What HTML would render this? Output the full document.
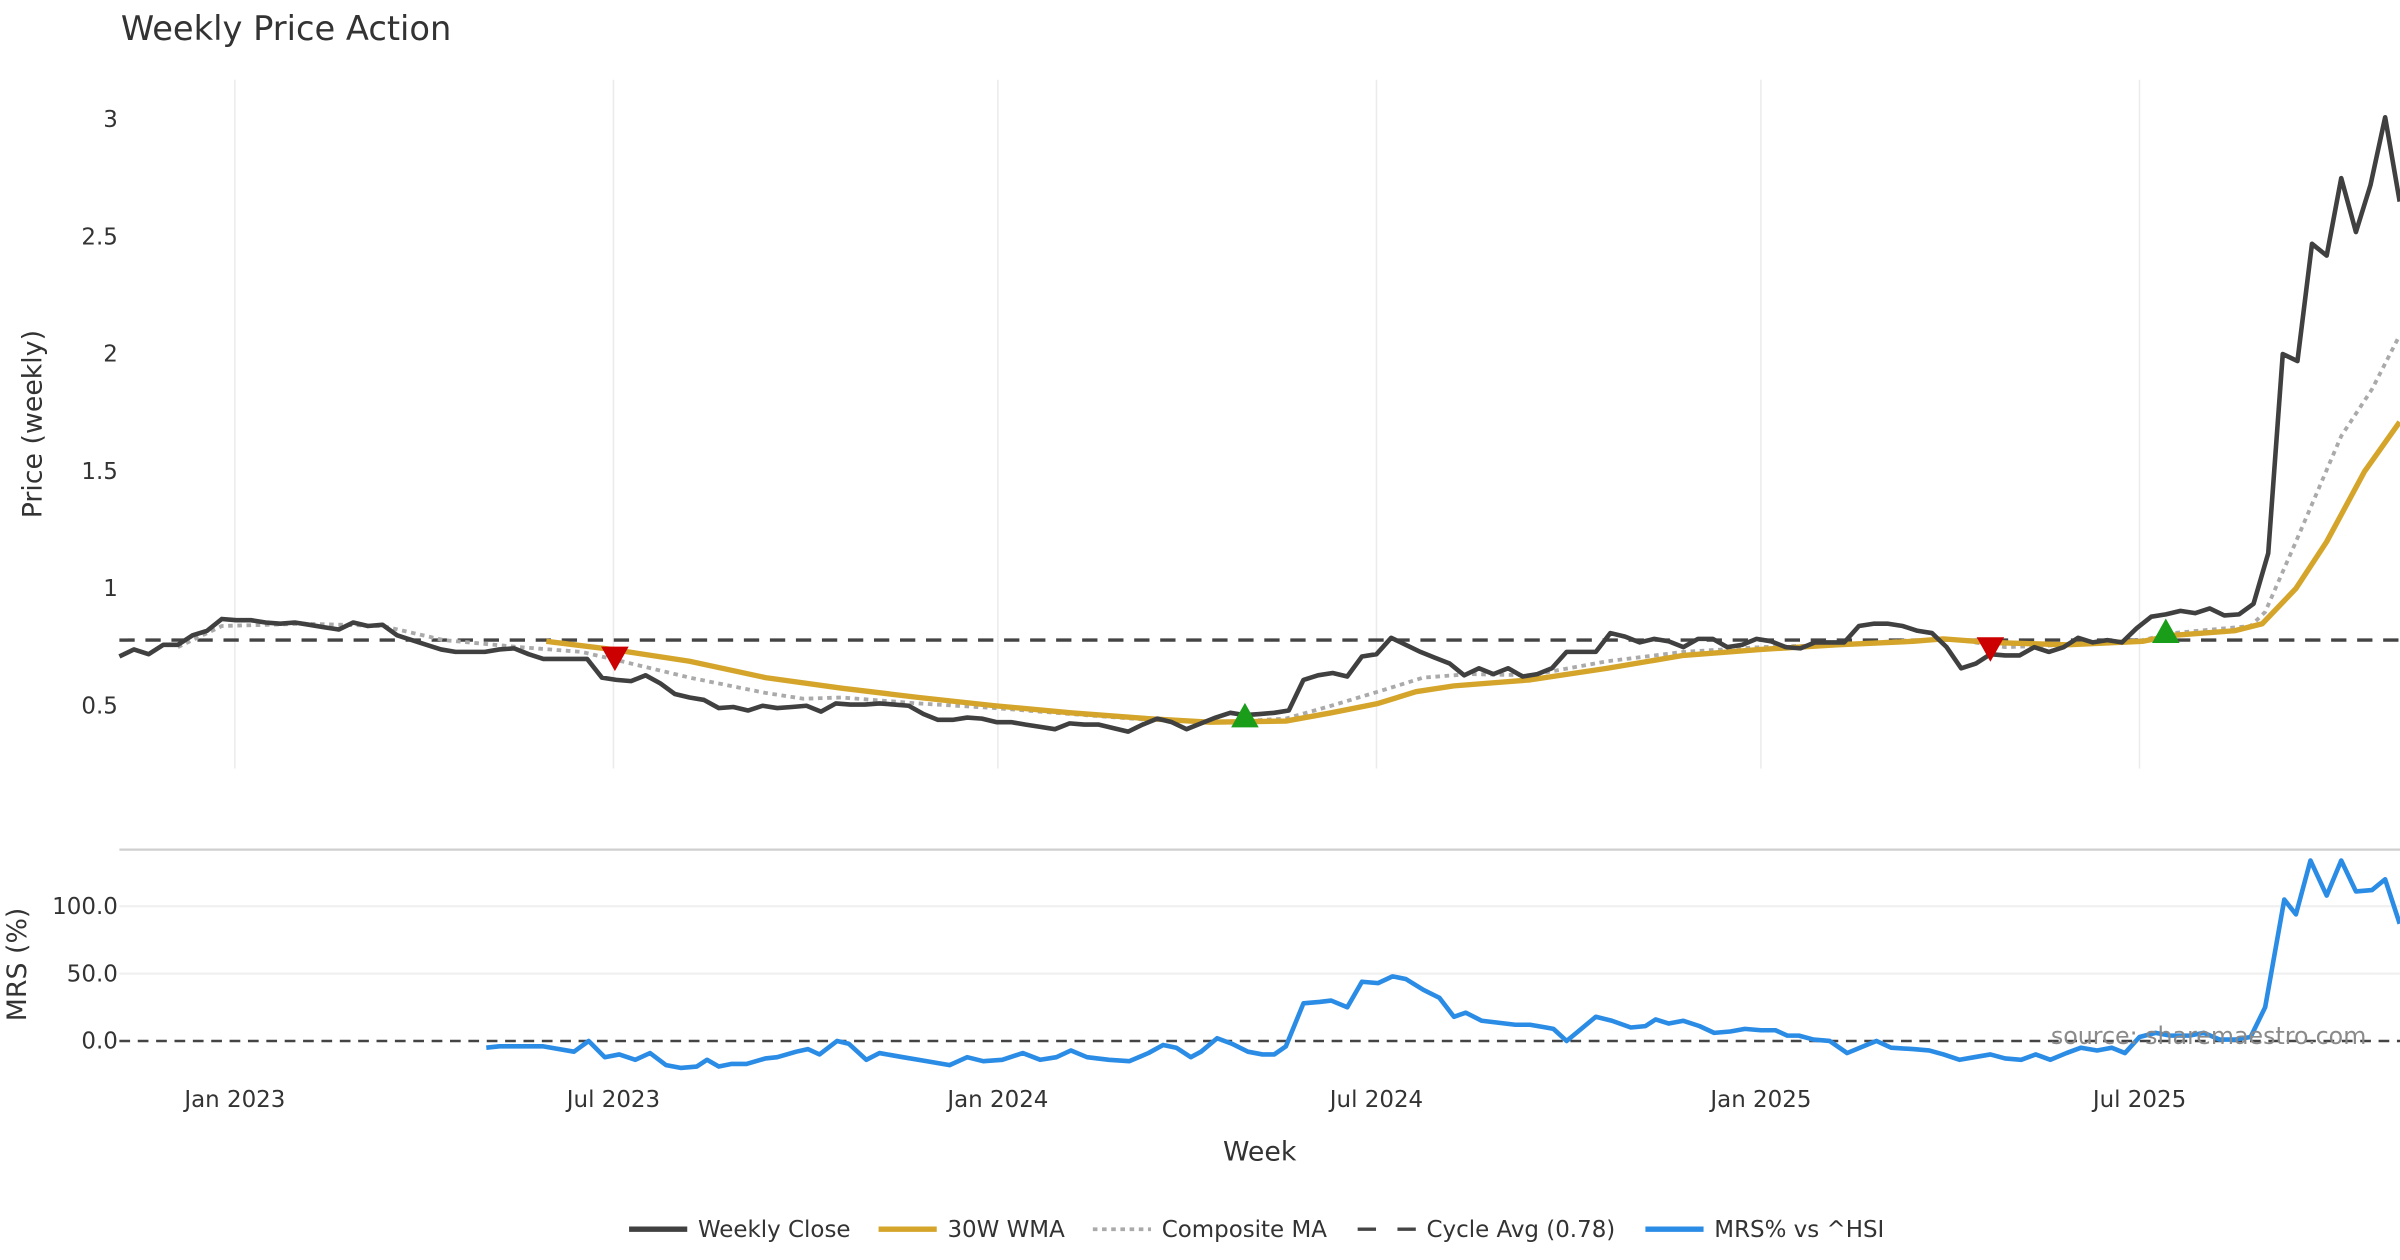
<!DOCTYPE html>
<html><head><meta charset="utf-8"><style>
html,body{margin:0;padding:0;background:#fff;}
svg{display:block;font-family:"DejaVu Sans","Liberation Sans",sans-serif;}
</style></head><body>
<svg id="chart" width="2400" height="1260" viewBox="0 0 1568 823" xmlns="http://www.w3.org/2000/svg">
<text x="79" y="26" font-size="22" fill="#333">Weekly Price Action</text>
<g id="grid"></g>
<g id="axes"></g>
<g id="series"></g>
<text transform="translate(27,277) rotate(-90)" text-anchor="middle" font-size="17.5" fill="#333">Price (weekly)</text>
<text transform="translate(17,630) rotate(-90)" text-anchor="middle" font-size="17.5" fill="#333">MRS (%)</text>
<text x="823" y="758" text-anchor="middle" font-size="17.5" fill="#333">Week</text>
<text x="1546" y="682" text-anchor="end" font-size="15.5" fill="#8a8a8a">source: sharemaestro.com</text>
<g id="legend"></g>
</svg>
<script>
const closeValues=[0.71,0.74,0.72,0.76,0.76,0.80,0.82,0.87,0.865,0.865,0.855,0.85,0.855,0.845,0.835,0.825,0.855,0.84,0.845,
0.80,0.78,0.76,0.74,0.73,0.73,0.73,0.74,0.745,0.72,0.70,0.70,0.70,0.70,
0.62,0.61,0.605,0.63,0.595,0.55,0.535,0.525,0.49,0.495,0.48,0.50,0.49,0.495,0.50,0.475,0.51,0.505,0.505,0.51,0.505,0.50,
0.465,0.44,0.44,0.45,0.445,0.43,0.43,0.42,0.41,0.40,0.425,0.42,0.42,0.405,0.39,0.42,0.445,0.43,0.40,0.425,0.45,0.47,0.46,0.465,0.47,0.48,
0.61,0.63,0.64,0.625,0.71,0.72,0.79,0.76,0.73,0.705,0.68,0.63,0.66,0.635,0.66,0.625,0.635,0.66,0.73,0.73,0.73,0.81,0.795,0.77,0.785,0.775,0.75,0.785,0.785,0.75,0.76,0.785,0.775,0.75,0.745,0.77,0.77,
0.77,0.84,0.85,0.85,0.84,0.82,0.81,0.75,0.66,0.68,0.72,0.715,0.715,0.75,0.73,0.75,0.79,0.77,0.78,0.77,0.83,0.88,0.89,0.905,0.895,0.915,0.885,0.89,0.935,1.15,2.00,1.97,2.47,2.42,2.75,2.52,2.72,3.01,2.65];
const wmaWeeks=[29.2,33.7,39.0,44.2,49.4,54.7,59.9,65.1,70.4,74.6,79.8,82.9,86.1,88.7,91.3,96.5,101.8,107.0,112.3,117.5,122.7,124.8,128.0,133.2,138.4,140.5,144.7,146.6,148.9,151.0,153.6,156.0];
const wmaValues=[0.775,0.74,0.69,0.62,0.575,0.535,0.50,0.47,0.445,0.43,0.435,0.47,0.51,0.56,0.585,0.61,0.66,0.715,0.74,0.76,0.775,0.785,0.77,0.76,0.775,0.80,0.82,0.85,1.0,1.2,1.5,1.71];
const compWeeks=[4.0,7.0,12.8,18.0,22.2,27.4,31.6,33.7,39.0,44.2,46.8,49.4,54.7,59.9,65.1,70.4,75.6,79.8,82.9,86.1,89.2,92.4,96.5,101.8,107.0,112.3,117.5,122.7,125.9,129.0,133.2,138.4,140.5,145.8,146.8,148.9,152.0,154.1,156.0];
const compValues=[0.75,0.84,0.85,0.84,0.78,0.75,0.73,0.70,0.62,0.555,0.53,0.535,0.51,0.49,0.465,0.44,0.43,0.445,0.50,0.56,0.62,0.635,0.63,0.69,0.73,0.75,0.76,0.78,0.78,0.75,0.76,0.78,0.81,0.84,0.90,1.2,1.65,1.85,2.08];
const mrsWeeks=[25.1,26.0,28.0,29.0,31.1,32.1,33.2,34.2,35.3,36.3,37.4,38.4,39.5,40.2,41.0,41.9,42.9,44.2,45.0,46.3,47.1,47.9,49.1,49.9,51.1,52.0,53.6,55.2,56.8,58.0,59.1,60.4,61.8,63.0,64.1,65.1,66.2,67.7,69.1,70.4,71.4,72.3,73.3,74.0,75.1,76.1,77.2,78.2,79.0,79.8,81.0,82.1,82.9,84.0,85.0,86.1,87.1,88.0,89.2,90.3,91.3,92.1,93.2,94.0,95.5,96.5,97.6,98.1,99.0,99.9,101.0,102.1,103.4,104.4,105.1,106.0,107.0,108.1,109.1,110.2,111.2,112.3,113.3,114.1,114.9,115.9,117.0,118.2,119.3,120.2,121.2,122.7,123.8,124.8,125.9,126.9,128.0,129.0,130.1,131.1,132.1,133.2,134.2,135.3,136.3,137.2,138.2,139.3,140.3,141.6,142.6,143.7,144.7,145.8,146.8,148.1,148.9,149.9,151.0,152.0,153.0,154.1,155.0,156.0];
const mrsValues=[-5,-4,-4,-4,-8,0,-12,-10,-14,-9,-18,-20,-19,-14,-19,-17,-17,-13,-12,-8,-6,-10,0,-2,-14,-9,-12,-15,-18,-12,-15,-14,-9,-14,-12,-7,-12,-14,-15,-9,-3,-5,-12,-8,2,-2,-8,-10,-10,-4,28,29,30,25,44,43,48,46,38,32,18,21,15,14,12,12,10,9,0,8,18,15,10,11,16,13,15,11,6,7,9,8,8,4,4,1,0,-9,-4,0,-5,-6,-7,-10,-14,-12,-10,-13,-14,-10,-14,-9,-5,-7,-5,-9,3,6,4,4,6,1,1,3,25,105,94,134,108,134,111,112,120,87];
const sellWeeks=[33.9,128.0];
const sellValues=[0.70,0.74];
const buyWeeks=[77.0,140.0];
const buyValues=[0.46,0.82];
const cycleAvg=0.78;
const priceTicks=[0.5,1,1.5,2,2.5,3];
const priceTickLabels=["0.5","1","1.5","2","2.5","3"];
const mrsTicks=[0,50,100];
const mrsTickLabels=["0.0","50.0","100.0"];
const dateTickWeeks=[7.9,33.8,60.1,86.0,112.3,138.2];
const dateTickLabels=["Jan 2023","Jul 2023","Jan 2024","Jul 2024","Jan 2025","Jul 2025"];

const NS="http://www.w3.org/2000/svg";
const X0=78,X1=1568,STEP=9.55;
const xS=w=>X0+w*STEP;
const yP=v=>461-(v-0.5)*153.2;
const yM=v=>680-v*0.88;
function mk(tag,attrs,parent){const e=document.createElementNS(NS,tag);for(const k in attrs)e.setAttribute(k,attrs[k]);parent.appendChild(e);return e;}
const grid=document.getElementById('grid'),axes=document.getElementById('axes'),series=document.getElementById('series'),legend=document.getElementById('legend');

dateTickWeeks.forEach((w,i)=>{
  const l=mk('line',{x1:xS(w),x2:xS(w),y1:52,y2:502,stroke:'#ebebeb','stroke-width':1},grid);
  
  
  const t=mk('text',{x:xS(w),y:723,'text-anchor':'middle','font-size':15,fill:'#333'},axes);
  t.textContent=dateTickLabels[i];
  
  
});
priceTicks.forEach((v,i)=>{
  const t=mk('text',{x:77,y:yP(v)+5,'text-anchor':'end','font-size':15,fill:'#333'},axes);
  t.textContent=priceTickLabels[i];
  
  
});
const sep=mk('line',{x1:78,x2:1568,y1:555,y2:555,stroke:'#cfcfcf','stroke-width':1.5},grid);


mrsTicks.forEach((v,i)=>{
  if(v!==0){const g=mk('line',{x1:78,x2:1568,y1:yM(v),y2:yM(v),stroke:'#f0f0f0','stroke-width':1.5},grid);
  
  }
  const t=mk('text',{x:77,y:yM(v)+5,'text-anchor':'end','font-size':15,fill:'#333'},axes);
  t.textContent=mrsTickLabels[i];
  
  
});
const z=mk('line',{x1:78,x2:1568,y1:yM(0),y2:yM(0),stroke:'#444','stroke-width':1.6,'stroke-dasharray':'7,5'},series);


const ca=mk('line',{x1:78,x2:1568,y1:yP(cycleAvg),y2:yP(cycleAvg),stroke:'#444','stroke-width':2.2,'stroke-dasharray':'10,7'},series);



function poly(ws,vs,yf,attrs,name){
  const pts=ws.map((w,i)=>xS(w).toFixed(1)+','+yf(vs[i]).toFixed(1)).join(' ');
  const p=mk('polyline',Object.assign({points:pts,fill:'none','stroke-linejoin':'round'},attrs),series);
  
  
}
poly(compWeeks,compValues,yP,{stroke:'#aaaaaa','stroke-width':2.5,'stroke-dasharray':'3,3'},'composite-ma-line');
poly(wmaWeeks,wmaValues,yP,{stroke:'#d4a52a','stroke-width':3.5},'wma-30w-line');
poly(closeValues.map((v,i)=>i),closeValues,yP,{stroke:'#404040','stroke-width':3},'weekly-close-line');
poly(mrsWeeks,mrsValues,yM,{stroke:'#2b8ce6','stroke-width':3},'mrs-line');

sellWeeks.forEach((w,i)=>{
  const x=xS(w),y=yP(sellValues[i]);
  const t=mk('polygon',{points:`${x-9},${y-8} ${x+9},${y-8} ${x},${y+8}`,fill:'#cc0000'},series);
  
  
});
buyWeeks.forEach((w,i)=>{
  const x=xS(w),y=yP(buyValues[i]);
  const t=mk('polygon',{points:`${x-9},${y+8} ${x+9},${y+8} ${x},${y-8}`,fill:'#1a9e1a'},series);
  
  
});

const legendItems=[
 {x:411,label:'Weekly Close',stroke:'#404040',w:3.5,dash:null,name:'legend-weekly-close'},
 {x:574,label:'30W WMA',stroke:'#d4a52a',w:3.5,dash:null,name:'legend-wma'},
 {x:714,label:'Composite MA',stroke:'#aaaaaa',w:2.5,dash:'3,3',name:'legend-composite-ma'},
 {x:887,label:'Cycle Avg (0.78)',stroke:'#444',w:2.2,dash:'12,14',name:'legend-cycle-avg'},
 {x:1075,label:'MRS% vs ^HSI',stroke:'#2b8ce6',w:3.5,dash:null,name:'legend-mrs'}
];
legendItems.forEach(it=>{
  const g=mk('g',{},legend);
  
  
  const a={x1:it.x,x2:it.x+38,y1:803,y2:803,stroke:it.stroke,'stroke-width':it.w};
  if(it.dash)a['stroke-dasharray']=it.dash;
  mk('line',a,g);
  const t=mk('text',{x:it.x+45,y:808,'font-size':15,fill:'#333'},g);
  t.textContent=it.label;
});
</script>
</body></html>
